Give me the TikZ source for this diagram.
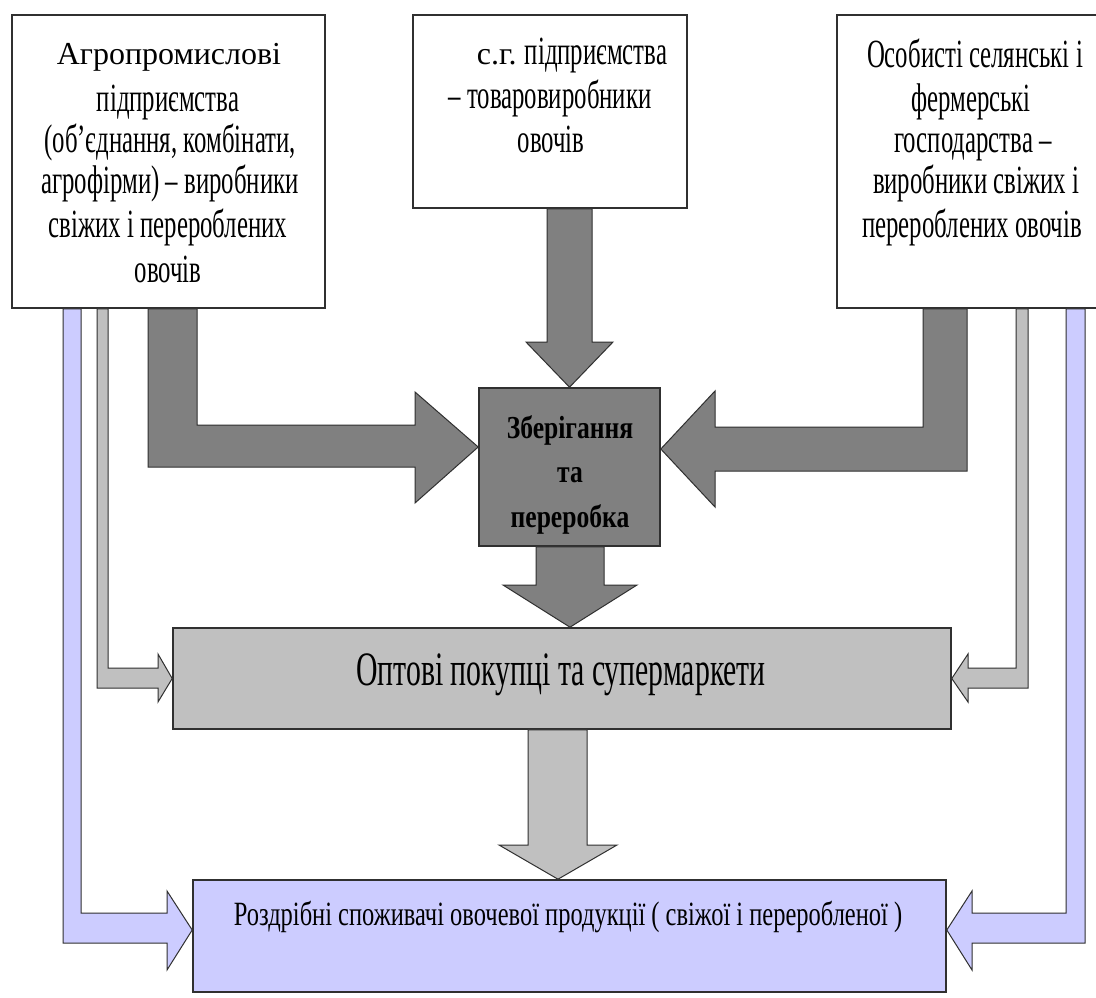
\documentclass[tikz,border=0pt]{standalone}
\usepackage{fontspec}
\setmainfont{Liberation Serif}
\newfontfamily\cndA[FakeStretch=0.62]{Liberation Serif}
\newfontfamily\cndF[FakeStretch=0.72]{Liberation Serif}
\newfontfamily\cndD[FakeStretch=0.8]{Liberation Serif}
\definecolor{dk}{HTML}{808080}
\definecolor{lt}{HTML}{C0C0C0}
\definecolor{bl}{HTML}{CCCCFF}
\definecolor{ln}{HTML}{303030}
\tikzset{
  box/.style={draw=ln, line width=1.6pt, inner sep=0pt},
  blk/.style={draw=ln, line width=1pt, line join=miter},
  t/.style={anchor=base, inner sep=0pt, text=black},
  plain/.style={t, font=\fontsize{32}{36}\selectfont},
  cnd/.style={t, font=\cndA\fontsize{40}{44}\selectfont},
  cbig/.style={t, font=\cndA\fontsize{48}{52}\selectfont},
  cf/.style={t, font=\cndF\fontsize{34}{38}\selectfont},
  cd/.style={t, font=\cndD\bfseries\fontsize{32}{36}\selectfont}
}
\begin{document}
\begin{tikzpicture}[x=1pt,y=-1pt]
\path[use as bounding box, fill=white] (0,0) rectangle (1096,998);

% boxes
\node[box, fill=white, minimum width=313pt, minimum height=293pt] (A) at (168.5,161.5) {};
\node[box, fill=white, minimum width=274pt, minimum height=193pt] (B) at (550,111.5) {};
\node[box, fill=white, minimum width=261pt, minimum height=293pt] (C) at (967.5,161.5) {};
\node[box, fill=dk, minimum width=181pt, minimum height=158pt] (D) at (569.5,467) {};
\node[box, fill=lt, minimum width=778pt, minimum height=101pt] (E) at (562,678.5) {};
\node[box, fill=bl, minimum width=753pt, minimum height=112pt] (F) at (569.5,936) {};

% block arrows into D
\draw[blk, fill=dk] (547,0 |- B.south) -- (547,342) -- (526,342) -- (D.north)
  -- (613,342) -- (592,342) -- (592,0 |- B.south) -- cycle;
\draw[blk, fill=dk] (148,0 |- A.south) -- (148,467) -- (415,467) -- (415,503)
  -- (D.west |- 0,447) -- (415,392) -- (415,425) -- (197,425) -- (197,0 |- A.south) -- cycle;
\draw[blk, fill=dk] (967,0 |- C.south) -- (967,471) -- (715,471) -- (715,507)
  -- (D.east |- 0,449) -- (715,391) -- (715,427) -- (923,427) -- (923,0 |- C.south) -- cycle;
% D -> E
\draw[blk, fill=dk] (536,0 |- D.south) -- (536,585) -- (503,585) -- (E.north -| 570,0)
  -- (637,585) -- (604,585) -- (604,0 |- D.south) -- cycle;
% E -> F
\draw[blk, fill=lt] (528,0 |- E.south) -- (528,845) -- (499,845) -- (F.north -| 558,0)
  -- (617,845) -- (587,845) -- (587,0 |- E.south) -- cycle;
% thin grey A -> E, C -> E
\draw[blk, fill=lt] (97,0 |- A.south) -- (97,688) -- (158,688) -- (158,702) -- (E.west)
  -- (158,654) -- (158,668) -- (108,668) -- (108,0 |- A.south) -- cycle;
\draw[blk, fill=lt] (1028,0 |- C.south) -- (1028,688) -- (968,688) -- (968,702) -- (E.east)
  -- (968,654) -- (968,668) -- (1016,668) -- (1016,0 |- C.south) -- cycle;
% blue A -> F, C -> F
\draw[blk, fill=bl] (63,0 |- A.south) -- (63,943) -- (167,943) -- (167,970) -- (F.west |- 0,930)
  -- (167,891) -- (167,913) -- (81,913) -- (81,0 |- A.south) -- cycle;
\draw[blk, fill=bl] (1085,0 |- C.south) -- (1085,943) -- (972,943) -- (972,970) -- (F.east |- 0,930)
  -- (972,891) -- (972,913) -- (1066,913) -- (1066,0 |- C.south) -- cycle;

% texts box A
\node[plain] (a1) at (169,65) {Агропромислові};
\node[cnd] (a2) at (168,112) {підприємства};
\node[cnd] (a3) at (170,152) {(об’єднання, комбінати,};
\node[cnd] (a4) at (170,193) {агрофірми) – виробники};
\node[cnd] (a5) at (168,237) {свіжих і перероблених};
\node[cnd] (a6) at (168,282) {овочів};
% texts box B
\node[cnd] (b1) at (572,65) {{\fontsize{32}{36}\selectfont\rmfamily с.г.} підприємства};
\node[cnd] (b2) at (550,108) {– товаровиробники};
\node[cnd] (b3) at (551,152) {овочів};
% texts box C
\node[cnd] (c1) at (975,68) {Особисті селянські і};
\node[cnd] (c2) at (971,112) {фермерські};
\node[cnd] (c3) at (973,152) {господарства –};
\node[cnd] (c4) at (976,193) {виробники свіжих і};
\node[cnd] (c5) at (972,237) {перероблених овочів};
% text D
\node[cd] (d1) at (570,438) {Зберігання};
\node[cd] (d2) at (570,482) {та};
\node[cd] (d3) at (570,527) {переробка};
% text E
\node[cbig] (e1) at (561,685) {Оптові покупці та супермаркети};
% text F
\node[cf] (f1) at (568,925) {Роздрібні споживачі овочевої продукції ( свіжої і переробленої )};
\end{tikzpicture}
\end{document}
